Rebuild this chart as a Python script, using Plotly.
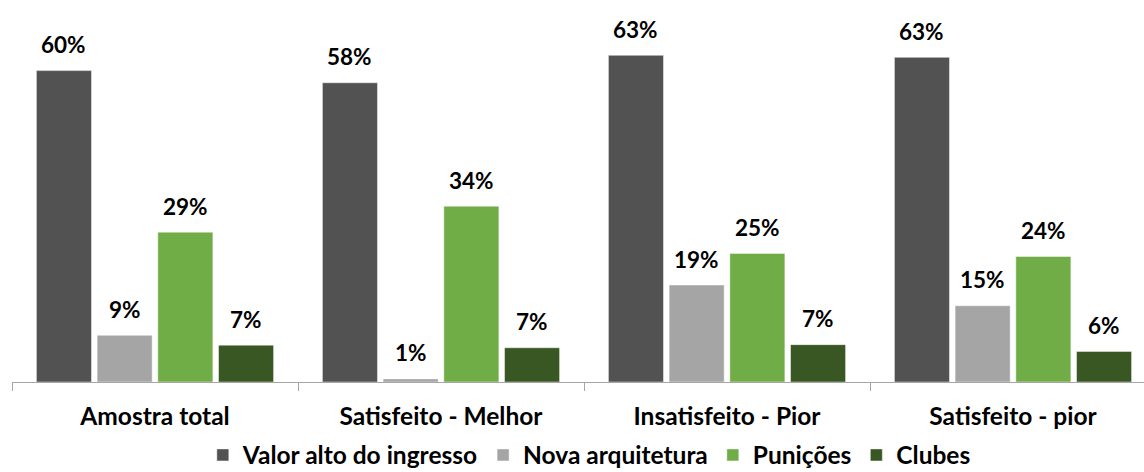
import plotly.graph_objects as go

categories = ["Amostra total", "Satisfeito - Melhor", "Insatisfeito - Pior", "Satisfeito - pior"]
series_names = ["Valor alto do ingresso", "Nova arquitetura", "Punições", "Clubes"]
valor_alto = [60.05, 57.7, 63.0, 62.6]
nova_arquitetura = [9.0, 0.6, 18.7, 14.7]
punicoes = [28.9, 33.9, 24.8, 24.2]
clubes = [7.1, 6.6, 7.2, 5.9]
colors = ["#525252", "#a5a5a5", "#70ad47", "#385723"]

series_values = [valor_alto, nova_arquitetura, punicoes, clubes]

FONT = "Lato"
BARGAP = 0.151

fig = go.Figure()
for name, vals, col in zip(series_names, series_values, colors):
    fig.add_trace(go.Bar(
        x=categories, y=vals, name=name,
        marker=dict(color=col, line=dict(width=1, color="rgba(255,255,255,0.45)")),
        hoverinfo="skip",
    ))

slot = (1 - BARGAP) / len(series_names)
annotations = []
for j, vals in enumerate(series_values):
    for i, v in enumerate(vals):
        annotations.append(dict(
            x=i + (j - 1.5) * slot, y=v, xref="x", yref="y",
            text=f"{round(v)}%", showarrow=False,
            yanchor="middle", yshift=26,
            font=dict(family=FONT, size=22.5, color="#000000", weight="bold"),
        ))

fig.update_layout(
    width=1144, height=472,
    margin=dict(l=12, r=0, t=19, b=90),
    paper_bgcolor="white", plot_bgcolor="white",
    barmode="group", bargap=BARGAP, bargroupgap=0.093,
    showlegend=True,
    legend=dict(
        orientation="h", x=0.51, xanchor="center",
        yref="container", y=(472 - 455) / 472, yanchor="middle",
        font=dict(family=FONT, size=24.5, color="#000000", weight="bold"),
        traceorder="normal",
    ),
    annotations=annotations,
    xaxis=dict(
        range=[-0.5, -0.5 + 1132 / 286],
        showline=True, linecolor="#a6a6a6", linewidth=1.3,
        ticks="outside", tickson="boundaries", ticklen=8, tickcolor="#a6a6a6",
        tickfont=dict(family=FONT, size=24.5, color="#000000", weight="bold"),
        ticklabelstandoff=12,
        showgrid=False, zeroline=False,
    ),
    yaxis=dict(range=[0, 70], visible=False, showgrid=False, zeroline=False),
)

fig.write_html("out.html")
